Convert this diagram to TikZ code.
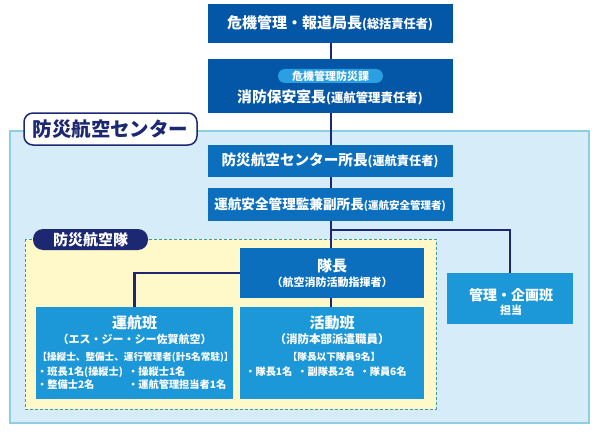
\documentclass[tikz,border=0pt]{standalone}
\usepackage{fontspec}
\setmainfont{Noto Sans CJK JP}
\definecolor{dkblue}{HTML}{0457A6}
\definecolor{mdblue}{HTML}{0B6FBE}
\definecolor{ltblue}{HTML}{1C98D8}
\definecolor{pillblue}{HTML}{2A9FE2}
\definecolor{regionfill}{HTML}{D6EDF9}
\definecolor{regionedge}{HTML}{8CCFE2}
\definecolor{yellowfill}{HTML}{FFF8C8}
\definecolor{dashedge}{HTML}{3E9A9C}
\definecolor{navy}{HTML}{1D2873}
\newcommand{\fsx}[1]{\fontsize{#1}{#1}\selectfont}
\begin{document}
\begin{tikzpicture}[x=1pt,y=-1pt,
  boxnode/.style={rectangle, inner sep=0pt, text=white, font=\bfseries, align=center},
  txt/.style={inner sep=0pt, text=white, font=\bfseries, align=center},
  smalltxt/.style={inner sep=0pt, text=white, anchor=west},
  conn/.style={draw=navy, line width=2.6pt}
]
\useasboundingbox (0,0) rectangle (600,436);
% regions
\draw[draw=regionedge, fill=regionfill, line width=1.2pt] (10,131) rectangle (589,423);
\draw[draw=dashedge, fill=yellowfill, line width=0.8pt, dash pattern=on 3pt off 2pt] (25,239) rectangle (436,409);

% labels
\node[draw=navy, fill=white, line width=1.5pt, rounded corners=9pt, minimum width=173pt, minimum height=32pt, inner sep=0pt, text=navy, font=\bfseries\fsx{19.5}] (lblcenter) at (110.5,129) {防災航空センター};
\node[fill=navy, rounded corners=10pt, minimum width=115pt, minimum height=21pt, inner sep=0pt, text=white, font=\bfseries\fsx{15}] (lbltai) at (90.5,239.5) {防災航空隊};

% top boxes
\node[boxnode, fill=dkblue, minimum width=245pt, minimum height=39pt] (b1) at (330,23.5) {{\fsx{15}危機管理・報道局長}{\fsx{12.2}(総括責任者)}};
\node[boxnode, fill=dkblue, minimum width=245pt, minimum height=54pt] (b2) at (330,86) {};
\node[fill=pillblue, rounded corners=7pt, minimum width=105pt, minimum height=14pt, inner sep=0pt, text=white, font=\bfseries\fsx{11}] (pill) at (330.5,76) {危機管理防災課};
\node[txt] (b2t) at (330,97) {{\fsx{14.8}消防保安室長}{\fsx{12.4}(運航管理責任者)}};
\node[boxnode, fill=mdblue, minimum width=245pt, minimum height=32pt] (b3) at (330,161) {{\fsx{14.6}防災航空センター所長}{\fsx{12.2}(運航責任者)}};
\node[boxnode, fill=mdblue, minimum width=245pt, minimum height=33pt] (b4) at (330,204.5) {{\fsx{13.6}運航安全管理監兼副所長}{\fsx{10.5}(運航安全管理者)}};

% taicho
\node[boxnode, fill=mdblue, minimum width=184pt, minimum height=50pt] (taicho) at (332,273) {};
\node[txt, font=\bfseries\fsx{15}] (tai1) at (332,266) {隊長};
\node[txt, font=\bfseries\fsx{11}] (tai2) at (332,282) {（航空消防活動指揮者）};

% unko
\node[boxnode, fill=ltblue, minimum width=197pt, minimum height=92pt] (unko) at (134.5,353) {};
\node[txt, font=\bfseries\fsx{15}] (u1) at (134.5,323) {運航班};
\node[txt, font=\bfseries\fsx{11}] (u2) at (134.5,339) {（エス・ジー・シー佐賀航空）};
\node[txt, font=\bfseries\fsx{9.6}] (u3) at (135.5,357) {【操縦士、整備士、運行管理者(計5名常駐)】};
\node[smalltxt, font=\bfseries\fsx{10.2}] (u4) at (37,372) {・班長1名(操縦士)};
\node[smalltxt, font=\bfseries\fsx{10.2}] (u5) at (128,372) {・操縦士1名};
\node[smalltxt, font=\bfseries\fsx{10.2}] (u6) at (37,384.5) {・整備士2名};
\node[smalltxt, font=\bfseries\fsx{10.2}] (u7) at (128,384.5) {・運航管理担当者1名};

% katsudo
\node[boxnode, fill=ltblue, minimum width=184pt, minimum height=92pt] (katsudo) at (332,353) {};
\node[txt, font=\bfseries\fsx{15}] (k1) at (332,323) {活動班};
\node[txt, font=\bfseries\fsx{11.5}] (k2) at (332,339) {（消防本部派遣職員）};
\node[txt, font=\bfseries\fsx{9.6}] (k3) at (334,357) {【隊長以下隊員9名】};
\node[txt, font=\bfseries\fsx{10.2}] (k4) at (326,372) {・隊長1名\hspace{5pt}・副隊長2名\hspace{5pt}・隊員6名};

% kanri
\node[boxnode, fill=ltblue, minimum width=126pt, minimum height=51pt] (kanri) at (510,298.5) {};
\node[txt, font=\bfseries\fsx{14}] (m1) at (511,295) {管理・企画班};
\node[txt, font=\bfseries\fsx{11}] (m2) at (511,310) {担当};

% connectors
\coordinate (jn) at (331,230);
\draw[conn] (b1.south -| jn) -- (b2.north -| jn);
\draw[conn] (b2.south -| jn) -- (b3.north -| jn);
\draw[conn] (b3.south -| jn) -- (b4.north -| jn);
\draw[conn] (b4.south -| jn) -- (taicho.north -| jn);
\draw[conn] (jn) -| (kanri.north);
\draw[conn] (taicho.west) -| (unko.north);
\draw[conn] (taicho.south -| jn) -- (katsudo.north -| jn);
\end{tikzpicture}
\end{document}
